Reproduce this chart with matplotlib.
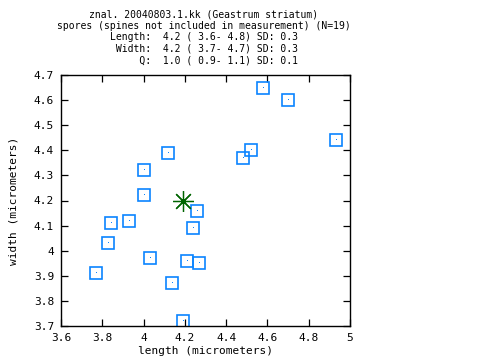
import numpy as np
import matplotlib
matplotlib.use('Agg')
from matplotlib import pyplot as plt
from matplotlib.ticker import FuncFormatter

# spore measurements (micrometers)
length = [4.58, 4.70, 4.93, 4.52, 4.48, 4.12, 4.00, 4.00, 4.26, 4.24,
          3.84, 3.93, 3.83, 4.03, 4.21, 4.27, 3.77, 4.14, 4.19]
width = [4.65, 4.60, 4.44, 4.40, 4.37, 4.39, 4.32, 4.22, 4.16, 4.09,
         4.11, 4.12, 4.03, 3.97, 3.96, 3.95, 3.91, 3.87, 3.72]
mean_length = [4.19]
mean_width = [4.20]

title_lines = [
    'znal. 20040803.1.kk (Geastrum striatum)',
    'spores (spines not included in measurement) (N=19)',
    'Length:  4.2 ( 3.6- 4.8) SD: 0.3',
    ' Width:  4.2 ( 3.7- 4.7) SD: 0.3',
    '     Q:  1.0 ( 0.9- 1.1) SD: 0.1',
]
x_ticks = [3.6, 3.8, 4.0, 4.2, 4.4, 4.6, 4.8, 5.0]
y_ticks = [3.7, 3.8, 3.9, 4.0, 4.1, 4.2, 4.3, 4.4, 4.5, 4.6, 4.7]

mono = 'DejaVu Sans Mono'
fs = 8.0
blue = '#0a84ff'
green = '#006400'

fig = plt.figure(figsize=(4.8, 3.6), dpi=100)
ax = fig.add_axes([61/480, 34/360, 289/480, 251/360])

ax.plot(length, width, linestyle='none', marker='s', markersize=8,
        markerfacecolor='none', markeredgecolor=blue, markeredgewidth=1.2)
ax.plot(length, width, linestyle='none', marker=',', color=blue)
ax.plot(mean_length, mean_width, linestyle='none', marker=(8, 2, 0),
        markersize=15, color=green, markeredgewidth=0.9)
ax.plot(mean_length, mean_width, linestyle='none', marker='o',
        markersize=2.5, color=green)

ax.set_xlim(3.6, 5.0)
ax.set_ylim(3.7, 4.7)
ax.set_xticks(x_ticks)
ax.set_yticks(y_ticks)
fmt = FuncFormatter(lambda v, p: '%g' % round(v, 2))
ax.xaxis.set_major_formatter(fmt)
ax.yaxis.set_major_formatter(fmt)
ax.tick_params(direction='in', length=5, width=0.9, top=True, right=True,
               labelsize=fs, pad=5)
for lab in ax.get_xticklabels() + ax.get_yticklabels():
    lab.set_family(mono)
for s in ax.spines.values():
    s.set_linewidth(1.0)

ax.set_xlabel('length (micrometers)', family=mono, fontsize=fs, labelpad=2)
ax.set_ylabel('width (micrometers)', family=mono, fontsize=fs, labelpad=11)

for i, line in enumerate(title_lines):
    fig.text(204/480, 1 - (14.5 + 11.4*i)/360, line, family=mono, fontsize=7.0,
             ha='center', va='center')

fig.savefig('out.png', dpi=100)
